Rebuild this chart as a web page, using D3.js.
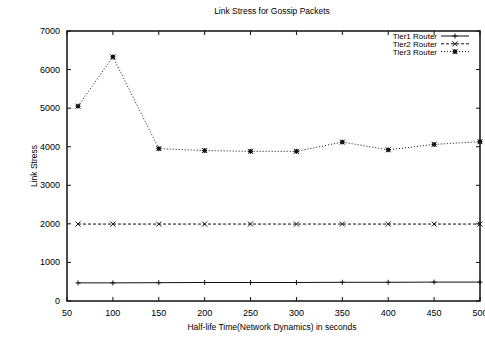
<!DOCTYPE html>
<html>
<head>
<meta charset="utf-8">
<script src="https://cdn.jsdelivr.net/npm/d3@7"></script>
<style>
body { margin: 0; background: #fff; }
text { font-family: "Liberation Sans", Arial, sans-serif; fill: #000; }
</style>
</head>
<body>
<svg id="visframe" width="485" height="337"></svg>
<script>
var xValues = [62, 100, 150, 200, 250, 300, 350, 400, 450, 500];
var tier1 = [470, 470, 475, 480, 480, 480, 485, 485, 490, 490];
var tier2 = [1995, 1995, 1995, 1995, 1995, 1995, 1995, 1995, 1995, 1995];
var tier3 = [5050, 6330, 3950, 3900, 3880, 3880, 4120, 3920, 4060, 4130];
var xTicks = [50, 100, 150, 200, 250, 300, 350, 400, 450, 500];
var yTicks = [0, 1000, 2000, 3000, 4000, 5000, 6000, 7000];
var seriesNames = ["Tier1 Router", "Tier2 Router", "Tier3 Router"];

var margins = { top: 31, bottom: 36, left: 67, right: 5 };
var w = 485, h = 337;

var svg = d3.select("#visframe");

var xScale = d3.scaleLinear().domain([50, 500]).range([margins.left, w - margins.right]);
var yScale = d3.scaleLinear().domain([0, 7000]).range([h - margins.bottom, margins.top]);

// ticks (inward, mirrored on top/right)
var tickLen = 4;
var axes = svg.append("g").attr("stroke", "#111").attr("stroke-width", 1);
xTicks.forEach(function(t) {
    axes.append("line").attr("x1", xScale(t)).attr("x2", xScale(t))
        .attr("y1", yScale(0)).attr("y2", yScale(0) - tickLen);
    axes.append("line").attr("x1", xScale(t)).attr("x2", xScale(t))
        .attr("y1", yScale(7000)).attr("y2", yScale(7000) + tickLen);
});
yTicks.forEach(function(t) {
    axes.append("line").attr("x1", xScale(50)).attr("x2", xScale(50) + tickLen)
        .attr("y1", yScale(t)).attr("y2", yScale(t));
    axes.append("line").attr("x1", xScale(500)).attr("x2", xScale(500) - tickLen)
        .attr("y1", yScale(t)).attr("y2", yScale(t));
});

// frame
svg.append("rect")
    .attr("x", xScale(50)).attr("y", yScale(7000))
    .attr("width", xScale(500) - xScale(50))
    .attr("height", yScale(0) - yScale(7000))
    .attr("fill", "none").attr("stroke", "#111").attr("stroke-width", 1.5);

// tick labels
svg.selectAll(".xlab").data(xTicks).enter().append("text")
    .attr("x", function(d) { return xScale(d); })
    .attr("y", yScale(0) + 15)
    .attr("text-anchor", "middle")
    .attr("font-size", 9)
    .text(function(d) { return d; });

svg.selectAll(".ylab").data(yTicks).enter().append("text")
    .attr("x", xScale(50) - 7)
    .attr("y", function(d) { return yScale(d) + 3; })
    .attr("text-anchor", "end")
    .attr("font-size", 9)
    .text(function(d) { return d; });

// titles
svg.append("text").attr("x", 272).attr("y", 14).attr("text-anchor", "middle")
    .attr("font-size", 8.5).text("Link Stress for Gossip Packets");
svg.append("text").attr("x", 272).attr("y", 330).attr("text-anchor", "middle")
    .attr("font-size", 8.5).text("Half-life Time(Network Dynamics) in seconds");
svg.append("text").attr("transform", "translate(37," + (yScale(3500)) + ") rotate(-90)")
    .attr("text-anchor", "middle").attr("font-size", 8.5).text("Link Stress");

// series
var allSeries = [tier1, tier2, tier3];
var dashes = [null, "3,2", "1,2"];

var line = d3.line()
    .x(function(d, i) { return xScale(xValues[i]); })
    .y(function(d) { return yScale(d); });

function drawMarker(g, k, cx, cy) {
    var s = 2.5;
    var m = g.append("g").attr("stroke", "#111").attr("stroke-width", 1);
    if (k === 0 || k === 2) {
        m.append("line").attr("x1", cx - s).attr("x2", cx + s).attr("y1", cy).attr("y2", cy);
        m.append("line").attr("x1", cx).attr("x2", cx).attr("y1", cy - s).attr("y2", cy + s);
    }
    if (k === 1 || k === 2) {
        m.append("line").attr("x1", cx - s).attr("x2", cx + s).attr("y1", cy - s).attr("y2", cy + s);
        m.append("line").attr("x1", cx - s).attr("x2", cx + s).attr("y1", cy + s).attr("y2", cy - s);
    }
    if (k === 2) {
        m.append("rect").attr("x", cx - 1.8).attr("y", cy - 1.8).attr("width", 3.6).attr("height", 3.6)
            .attr("fill", "#111").attr("stroke", "none");
    }
}

var plot = svg.append("g");
allSeries.forEach(function(data, k) {
    plot.append("path")
        .datum(data)
        .attr("d", line)
        .attr("fill", "none")
        .attr("stroke", "#111")
        .attr("stroke-width", 1)
        .attr("stroke-dasharray", dashes[k]);
    data.forEach(function(v, i) {
        drawMarker(plot, k, xScale(xValues[i]), yScale(v));
    });
});

// legend
var legend = svg.append("g");
seriesNames.forEach(function(name, k) {
    var ly = 36 + k * 7.8;
    legend.append("text").attr("x", 437).attr("y", ly + 3)
        .attr("text-anchor", "end").attr("font-size", 8).text(name);
    legend.append("line").attr("x1", 441).attr("x2", 469).attr("y1", ly).attr("y2", ly)
        .attr("stroke", "#111").attr("stroke-width", 1)
        .attr("stroke-dasharray", dashes[k]);
    drawMarker(legend, k, 455, ly);
});
</script>
</body>
</html>
